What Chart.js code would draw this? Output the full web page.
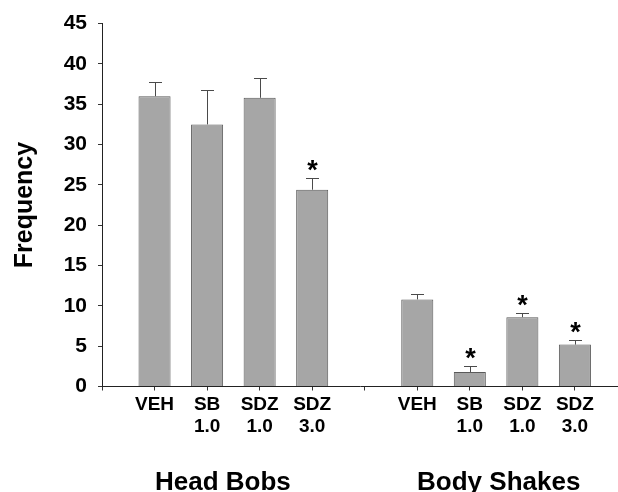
<!DOCTYPE html>
<html>
<head>
<meta charset="utf-8">
<script src="https://cdn.jsdelivr.net/npm/chart.js@4.4.1/dist/chart.umd.min.js"></script>
<style>
  html, body { margin: 0; padding: 0; background: #fff; overflow: hidden; }
  #wrap { width: 618px; height: 492px; position: relative; }
</style>
</head>
<body>
<div id="wrap"><canvas id="chart"></canvas></div>
<script>
// Data
const conditions = ['VEH', 'SB 1.0', 'SDZ 1.0', 'SDZ 3.0'];
const groups = ['Head Bobs', 'Body Shakes'];
const headBobs = [36.0, 32.5, 35.8, 24.4];
const headBobsErr = [1.8, 4.3, 2.5, 1.5];
const headBobsSig = [false, false, false, true];
const bodyShakes = [10.8, 1.8, 8.6, 5.2];
const bodyShakesErr = [0.7, 0.75, 0.5, 0.6];
const bodyShakesSig = [false, true, true, true];
const yTicks = [0, 5, 10, 15, 20, 25, 30, 35, 40, 45];

const FONT = "'Liberation Sans', Arial, sans-serif";

// slot 0 and slot 5 are empty spacers on the x axis
const headX = conditions.map((c, i) => i + 1);
const bodyX = conditions.map((c, i) => i + 6);
const tickLabels = [''].concat(conditions.map(c => c.split(' ')), [''], conditions.map(c => c.split(' ')));
const groupCenters = [2.3, 7.55];

function toPoints(xs, ys) {
    return xs.map((x, i) => ({ x: x, y: ys[i] }));
}

// draws the upper error bars and significance stars
const errorBars = {
    id: 'errorBars',
    afterDatasetsDraw(chart) {
        const ctx = chart.ctx;
        const y = chart.scales.y;
        ctx.save();
        chart.data.datasets.forEach((ds, di) => {
            const meta = chart.getDatasetMeta(di);
            meta.data.forEach((bar, i) => {
                const top = y.getPixelForValue(ds.data[i].y + ds.errors[i]);
                const bx = Math.round(bar.x) + 0.5;
                ctx.strokeStyle = '#4a4a4a';
                ctx.lineWidth = 1;
                ctx.beginPath();
                ctx.moveTo(bx, bar.y);
                ctx.lineTo(bx, Math.round(top) + 0.5);
                ctx.moveTo(bx - 6.5, Math.round(top) + 0.5);
                ctx.lineTo(bx + 6.5, Math.round(top) + 0.5);
                ctx.stroke();
                if (ds.sig[i]) {
                    ctx.fillStyle = '#000';
                    ctx.font = 'bold 27px ' + FONT;
                    ctx.textAlign = 'center';
                    ctx.textBaseline = 'alphabetic';
                    ctx.fillText('*', bx, top + 1);
                }
            });
        });
        ctx.restore();
    }
};

// group names under the tick labels
const groupLabels = {
    id: 'groupLabels',
    afterDraw(chart) {
        const ctx = chart.ctx;
        const x = chart.scales.x;
        ctx.save();
        ctx.fillStyle = '#000';
        ctx.font = 'bold 26px ' + FONT;
        ctx.textAlign = 'center';
        ctx.textBaseline = 'alphabetic';
        groups.forEach((g, i) => {
            ctx.fillText(g, x.getPixelForValue(groupCenters[i]), chart.height - 2);
        });
        ctx.restore();
    }
};

const barStyle = {
    backgroundColor: '#a6a6a6',
    borderColor: '#5a5a5a',
    borderWidth: 1,
    barPercentage: 0.61,
    categoryPercentage: 1,
    grouped: false
};

new Chart(document.getElementById('chart'), {
    type: 'bar',
    data: {
        datasets: [
            Object.assign({ label: groups[0], data: toPoints(headX, headBobs), errors: headBobsErr, sig: headBobsSig }, barStyle),
            Object.assign({ label: groups[1], data: toPoints(bodyX, bodyShakes), errors: bodyShakesErr, sig: bodyShakesSig }, barStyle)
        ]
    },
    plugins: [errorBars, groupLabels],
    options: {
        responsive: true,
        maintainAspectRatio: false,
        animation: false,
        layout: { padding: { top: 20, right: 0, bottom: 0, left: 0 } },
        plugins: {
            legend: { display: false },
            tooltip: { enabled: false }
        },
        scales: {
            x: {
                type: 'linear',
                min: 0,
                max: 9.82,
                offset: false,
                afterBuildTicks: s => { s.ticks = tickLabels.map((t, i) => ({ value: i })); },
                afterFit: s => { s.height = 105.5; },
                grid: {
                    offset: false,
                    drawOnChartArea: false,
                    drawTicks: true,
                    tickLength: 4,
                    color: '#333'
                },
                border: { color: '#222', width: 1 },
                ticks: {
                    autoSkip: false,
                    maxRotation: 0,
                    padding: 3,
                    color: '#000',
                    font: { family: FONT, size: 19, weight: 'bold', lineHeight: 1.15 },
                    callback: v => tickLabels[v]
                }
            },
            y: {
                min: 0,
                max: 45,
                afterBuildTicks: s => { s.ticks = yTicks.map(v => ({ value: v })); },
                afterFit: s => { s.width = 102; },
                grid: {
                    drawOnChartArea: false,
                    drawTicks: true,
                    tickLength: 4,
                    color: '#333'
                },
                border: { color: '#222', width: 1 },
                title: {
                    display: true,
                    text: 'Frequency',
                    color: '#000',
                    font: { family: FONT, size: 25, weight: 'bold' },
                    padding: { top: 10, bottom: 0 }
                },
                ticks: {
                    padding: 11,
                    color: '#000',
                    font: { family: FONT, size: 21, weight: 'bold' }
                }
            }
        }
    }
});
</script>
</body>
</html>
